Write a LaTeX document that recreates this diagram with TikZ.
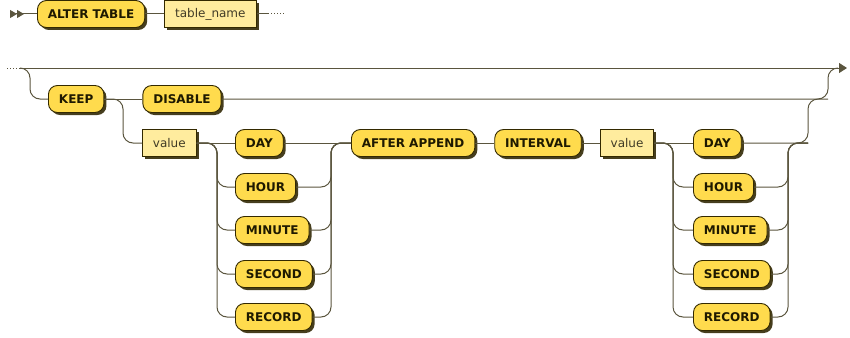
\documentclass[tikz,border=0pt]{standalone}
\usepackage{fontspec}
\setmainfont{DejaVu Sans}
\usetikzlibrary{arrows.meta,positioning,shadows}
\definecolor{railline}{RGB}{90,85,62}
\definecolor{boxline}{RGB}{51,41,0}
\definecolor{termfill}{RGB}{255,219,77}
\definecolor{ntermfill}{RGB}{255,236,158}
\definecolor{shade}{RGB}{70,62,30}
\definecolor{inktext}{RGB}{30,25,0}
\tikzset{
  term/.style={draw=boxline,line width=0.9pt,rounded corners=9pt,fill=termfill,text=inktext,
    font=\fontsize{12}{14}\selectfont\bfseries,minimum height=27pt,inner xsep=10.5pt,
    drop shadow={shadow xshift=2.5pt,shadow yshift=-2.5pt,fill=shade,opacity=1}},
  nterm/.style={draw=boxline,line width=0.9pt,fill=ntermfill,text=inktext!85,
    font=\fontsize{12}{14}\selectfont,minimum height=27pt,inner xsep=10.5pt,
    drop shadow={shadow xshift=2.5pt,shadow yshift=-2.5pt,fill=shade,opacity=1}},
  rail/.style={draw=railline,line width=1pt,rounded corners=10pt}
}

\begin{document}
\begin{tikzpicture}[x=1pt,y=-1pt]
  \useasboundingbox (0,0) rectangle (850,337);
  % first line
  \coordinate (start1) at (10,14);
  \node[term,anchor=west] (alter) at (37,14) {ALTER TABLE};
  \node[nterm,right=19pt of alter] (tname) {table\_name};
  \coordinate (cont1) at (268,14); \coordinate (dots1) at (284,14);
  \draw[rail,{Triangle[reversed,length=7pt,width=8pt]Triangle[reversed,length=7pt,width=8pt]}-] (start1) -- (alter);
  \draw[rail] (alter) -- (tname); \draw[rail] (tname) -- (cont1);
  \draw[rail,dotted] (cont1) -- (dots1);

  % second line
  \coordinate (dots2) at (7,68); \coordinate (start2) at (20,68);
  \coordinate (exit) at (838,68); \coordinate (end2) at (847,68);
  \coordinate (merge) at (828,99); \coordinate (join2) at (808,143);
  \node[term,anchor=west] (keep) at (48,99) {KEEP};
  \node[term,right=38pt of keep] (disable) {DISABLE};
  \node[nterm,anchor=west] (val1) at (142,143) {value};
  \node[term,anchor=west] (day1) at (235,143) {DAY};
  \node[term,anchor=west] (after) at (351,143) {AFTER APPEND};
  \node[term,right=19pt of after] (interval) {INTERVAL};
  \node[nterm,right=18pt of interval] (val2) {value};
  \node[term,anchor=west] (day2) at (693,143) {DAY};
  \foreach \n/\t/\y in {hour/HOUR/187,minute/MINUTE/230,second/SECOND/274,record/RECORD/317} {
    \node[term,anchor=west] (\n1) at (235,\y) {\t};
    \node[term,anchor=west] (\n2) at (693,\y) {\t};
  }

  \draw[rail,dotted] (dots2) -- (start2);
  \draw[rail,-{Triangle[length=8pt,width=10pt]}] (start2) -- (end2);
  \draw[rail] (start2) -- (30,68) -- (30,99) -- (keep.west);
  \draw[rail] (keep) -- (disable);
  \draw[rail] (disable.east) -- (merge) -- (828,68) -- (exit);
  \draw[rail] (keep.east) -- (123,99) -- (123,143) -- (val1.west);
  \draw[rail] (val1) -- (day1); \draw[rail] (day1) -- (after);
  \draw[rail] (after) -- (interval); \draw[rail] (interval) -- (val2);
  \draw[rail] (val2) -- (day2);
  \draw[rail] (day2.east) -- (join2) -- (808,99) -- (merge);
  \foreach \n/\y in {hour/187,minute/230,second/274,record/317} {
    \draw[rail] (val1.east) -- (217,143) -- (217,\y) -- (\n1.west);
    \draw[rail] (\n1.east) -- (331,\y) -- (331,143) -- (after.west);
    \draw[rail] (val2.east) -- (673,143) -- (673,\y) -- (\n2.west);
    \draw[rail] (\n2.east) -- (788,\y) -- (788,143) -- (join2);
  }
\end{tikzpicture}
\end{document}
